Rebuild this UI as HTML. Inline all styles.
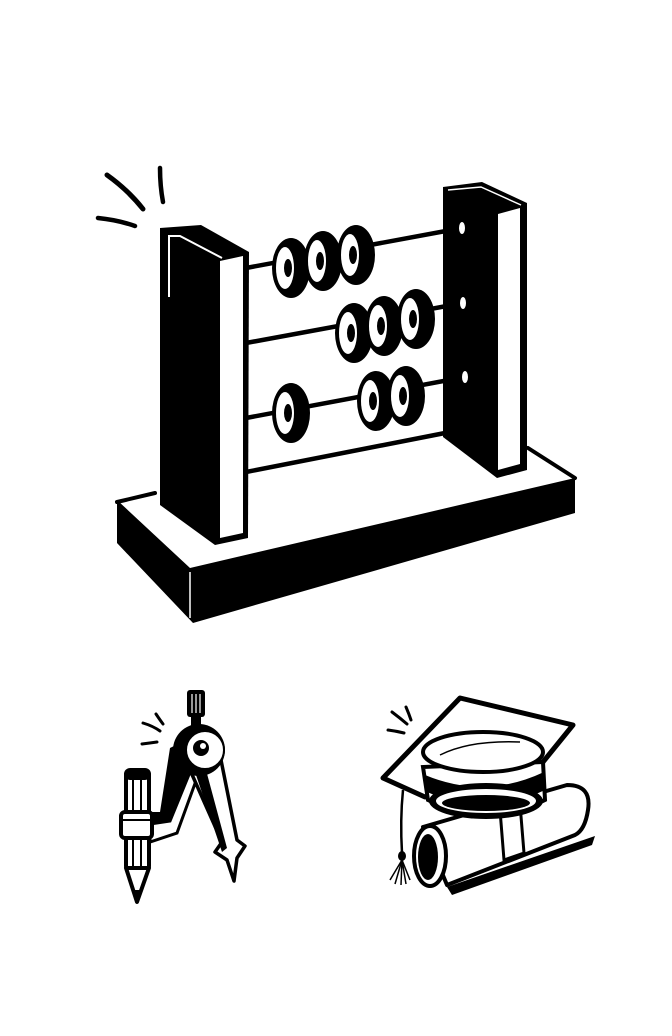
<!DOCTYPE html>
<html><head><meta charset="utf-8"><style>html,body{margin:0;padding:0;background:#fff}svg{display:block}</style></head>
<body>
<svg width="672" height="1036" viewBox="0 0 672 1036" xmlns="http://www.w3.org/2000/svg">
<rect width="672" height="1036" fill="#fff"/>
<!-- sparks -->
<g stroke="#000" stroke-linecap="round" fill="none">
<path d="M107,175 Q128,190 143,209" stroke-width="5"/>
<path d="M160,168 Q160,186 163,202" stroke-width="4.5"/>
<path d="M98,218 Q118,220 135,226" stroke-width="4.5"/>
</g>
<!-- base -->
<polygon points="117,500 190,568 575,478 575,513 193,623 117,543" fill="#000"/>
<polygon points="123,504 192,562 567,479 528,452 250,500 165,496" fill="#fff"/>
<polyline points="117,502 155,493" stroke="#000" stroke-width="4" fill="none" stroke-linecap="round"/>
<polyline points="528,448 575,478" stroke="#000" stroke-width="4" fill="none" stroke-linecap="round"/>
<line x1="190" y1="572" x2="190" y2="618" stroke="#fff" stroke-width="1.5"/>
<!-- rods -->
<g stroke="#000" stroke-width="4.5">
<line x1="246" y1="268" x2="462" y2="228"/>
<line x1="246" y1="343" x2="463" y2="303"/>
<line x1="246" y1="418" x2="465" y2="377"/>
<line x1="246" y1="472" x2="445" y2="433"/>
</g>
<!-- right post -->
<polygon points="443,187 482,182 527,203 527,470 497,478 443,437" fill="#000"/>
<polygon points="498,214 520,208 520,464 498,470" fill="#fff"/>
<polyline points="448,190 481,187 521,205" stroke="#fff" stroke-width="1.5" fill="none"/>
<g fill="#fff"><ellipse cx="462" cy="228" rx="3" ry="6"/><ellipse cx="463" cy="303" rx="3" ry="6"/><ellipse cx="465" cy="377" rx="3" ry="6"/></g>
<!-- left post -->
<polygon points="160,228 201,225 249,252 248,538 215,545 160,505" fill="#000"/>
<polygon points="220,261 243,256 243,533 220,538" fill="#fff"/>
<polyline points="169,297 169,236 180,236 222,258" stroke="#fff" stroke-width="2" fill="none"/>
<!-- beads -->
<g>
<g transform="translate(288,268)"><ellipse cx="3" rx="19" ry="30"/><ellipse cx="-3" rx="9" ry="21" fill="#fff"/><ellipse cx="0" rx="4" ry="9"/></g>
<g transform="translate(320,261)"><ellipse cx="3" rx="19" ry="30"/><ellipse cx="-3" rx="9" ry="21" fill="#fff"/><ellipse cx="0" rx="4" ry="9"/></g>
<g transform="translate(353,255)"><ellipse cx="3" rx="19" ry="30"/><ellipse cx="-3" rx="9" ry="21" fill="#fff"/><ellipse cx="0" rx="4" ry="9"/></g>
<g transform="translate(351,333)"><ellipse cx="3" rx="19" ry="30"/><ellipse cx="-3" rx="9" ry="21" fill="#fff"/><ellipse cx="0" rx="4" ry="9"/></g>
<g transform="translate(381,326)"><ellipse cx="3" rx="19" ry="30"/><ellipse cx="-3" rx="9" ry="21" fill="#fff"/><ellipse cx="0" rx="4" ry="9"/></g>
<g transform="translate(413,319)"><ellipse cx="3" rx="19" ry="30"/><ellipse cx="-3" rx="9" ry="21" fill="#fff"/><ellipse cx="0" rx="4" ry="9"/></g>
<g transform="translate(288,413)"><ellipse cx="3" rx="19" ry="30"/><ellipse cx="-3" rx="9" ry="21" fill="#fff"/><ellipse cx="0" rx="4" ry="9"/></g>
<g transform="translate(373,401)"><ellipse cx="3" rx="19" ry="30"/><ellipse cx="-3" rx="9" ry="21" fill="#fff"/><ellipse cx="0" rx="4" ry="9"/></g>
<g transform="translate(403,396)"><ellipse cx="3" rx="19" ry="30"/><ellipse cx="-3" rx="9" ry="21" fill="#fff"/><ellipse cx="0" rx="4" ry="9"/></g>
</g>

<!-- compass -->
<g stroke="#000" stroke-linecap="round" fill="none">
<path d="M143,723 Q153,726 160,731" stroke-width="3"/>
<path d="M156,714 Q160,720 163,724" stroke-width="3"/>
<path d="M142,744 Q150,743 157,742" stroke-width="3"/>
</g>
<rect x="187" y="690" width="18" height="27" rx="3" fill="#000"/>
<g stroke="#fff" stroke-width="1.2"><line x1="192" y1="694" x2="192" y2="713"/><line x1="196" y1="694" x2="196" y2="713"/><line x1="200" y1="694" x2="200" y2="713"/></g>
<rect x="191" y="716" width="10" height="14" fill="#000"/>
<!-- left leg -->
<polygon points="170,748 190,738 198,770 174,822 150,828 150,812 160,812" fill="#000"/>
<polygon points="150,824 170,821 190,772 197,778 177,833 150,842" fill="#fff" stroke="#000" stroke-width="3"/>
<!-- right leg -->
<polygon points="190,770 221,760 237,840 245,846 237,858 234,881 227,860 215,852 222,842" fill="#fff" stroke="#000" stroke-width="3.5" stroke-linejoin="round"/>
<polygon points="195,772 206,770 227,848 222,852" fill="#000"/>
<!-- hinge -->
<circle cx="199" cy="750" r="26" fill="#000"/>
<circle cx="205" cy="750" r="19" fill="#fff" stroke="#000" stroke-width="2"/>
<circle cx="201" cy="748" r="8" fill="#000"/>
<circle cx="203" cy="746" r="3" fill="#fff"/>
<!-- pencil -->
<rect x="126" y="770" width="23" height="100" rx="4" fill="#fff" stroke="#000" stroke-width="4"/>
<line x1="133" y1="775" x2="133" y2="866" stroke="#000" stroke-width="2"/>
<line x1="141" y1="775" x2="141" y2="866" stroke="#000" stroke-width="2"/>
<rect x="126" y="770" width="23" height="10" rx="4" fill="#000"/>
<polygon points="126,868 149,868 137,902" fill="#fff" stroke="#000" stroke-width="4" stroke-linejoin="round"/>
<polygon points="133,890 141,890 137,902" fill="#000"/>
<rect x="121" y="812" width="31" height="26" rx="4" fill="#fff" stroke="#000" stroke-width="4"/>
<line x1="123" y1="820" x2="150" y2="820" stroke="#000" stroke-width="2"/>

<!-- grad cap -->
<g stroke="#000" stroke-linecap="round" fill="none">
<path d="M392,712 Q400,718 407,724" stroke-width="3"/>
<path d="M406,707 Q409,714 411,720" stroke-width="3"/>
<path d="M388,730 Q396,731 404,733" stroke-width="3"/>
</g>
<!-- scroll -->
<path d="M447,887 L595,836 L592,845 L452,895 Z" fill="#000"/>
<path d="M423,827 L567,785 Q592,785 588,810 Q585,830 575,835 L447,885 Z" fill="#fff" stroke="#000" stroke-width="4" stroke-linejoin="round"/>
<ellipse cx="430" cy="856" rx="16" ry="30" fill="#fff" stroke="#000" stroke-width="4"/>
<ellipse cx="428" cy="857" rx="10" ry="23" fill="#000"/>
<path d="M500,810 L520,804 L524,853 L504,860 Z" fill="#fff" stroke="#000" stroke-width="3"/>
<!-- board -->
<polygon points="460,698 573,725 543,762 425,797 383,778" fill="#fff" stroke="#000" stroke-width="5" stroke-linejoin="round"/>
<!-- tassel -->
<path d="M403,790 Q400,820 402,853" stroke="#000" stroke-width="2.5" fill="none"/>
<ellipse cx="402" cy="856" rx="4" ry="5" fill="#000"/>
<g stroke="#000" stroke-width="1.5"><line x1="402" y1="860" x2="390" y2="880"/><line x1="402" y1="860" x2="395" y2="884"/><line x1="402" y1="860" x2="401" y2="885"/><line x1="402" y1="860" x2="406" y2="884"/><line x1="402" y1="860" x2="410" y2="880"/></g>
<!-- cap body -->
<path d="M423,767 L428,800 Q487,830 545,800 L543,762 Z" fill="#fff" stroke="#000" stroke-width="4"/>
<path d="M425,775 Q485,800 544,772 L545,790 Q487,818 427,792 Z" fill="#000"/>
<ellipse cx="486" cy="801" rx="57" ry="18" fill="#000"/>
<ellipse cx="486" cy="801" rx="50" ry="12" fill="#fff"/>
<ellipse cx="486" cy="803" rx="44" ry="8" fill="#000"/>
<ellipse cx="483" cy="752" rx="60" ry="20" fill="#fff" stroke="#000" stroke-width="4"/>
<path d="M440,755 Q470,740 520,742" stroke="#000" stroke-width="1.5" fill="none"/>
</svg>
</body></html>
